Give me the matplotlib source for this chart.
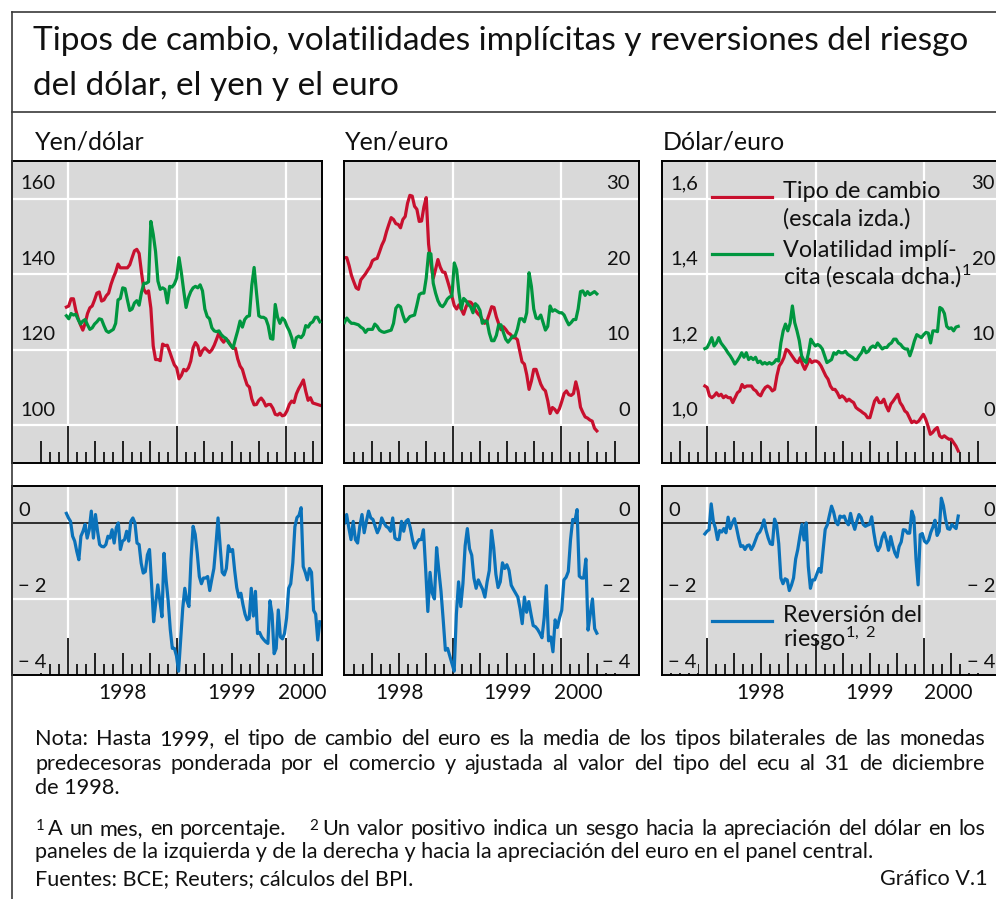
import numpy as np
import matplotlib
matplotlib.use("Agg")
import matplotlib.pyplot as plt
from matplotlib.lines import Line2D

plt.rcParams['font.family'] = ['Lato', 'DejaVu Sans']
plt.rcParams['mathtext.fontset'] = 'custom'
plt.rcParams['mathtext.rm'] = 'Lato'
plt.rcParams['mathtext.it'] = 'Lato:italic'
plt.rcParams['mathtext.bf'] = 'Lato:bold'
plt.rcParams['text.color'] = '#111111'

# ---------------------------------------------------------------- data
# weekly-ish observations, Jan 1998 - Apr 2000 (evenly spaced over each span)
span_yen_dollar = (1997.985, 2000.31)
span_yen_euro = (1997.995, 2000.33)
span_dollar_euro = (1997.98, 2000.315)

yen_dollar = [131.3, 131.6, 133.5, 133.5, 130.5, 128.3, 126.6, 125.2, 127.0, 129.6,
              131.1, 131.6, 133.2, 135.0, 135.3, 132.9, 133.2, 134.3, 135.0, 137.3,
              139.1, 140.6, 142.7, 141.7, 141.7, 141.7, 141.7, 142.5, 144.4, 146.2,
              146.6, 145.5, 140.5, 136.0, 135.0, 135.6, 131.0, 121.0, 117.4, 117.4,
              117.1, 121.5, 121.1, 121.2, 119.5, 117.7, 116.0, 115.2, 112.3, 113.2,
              114.8, 114.4, 115.2, 117.0, 120.5, 121.9, 121.0, 118.5, 119.8, 120.5,
              119.9, 119.3, 120.0, 121.2, 122.8, 124.5, 122.8, 122.0, 122.9, 122.3,
              121.2, 120.4, 120.4, 117.6, 115.7, 114.8, 112.6, 110.7, 110.1, 107.0,
              105.4, 105.5, 106.6, 107.2, 106.4, 105.1, 105.5, 105.5, 104.5, 102.9,
              102.7, 103.2, 102.5, 102.7, 103.8, 105.5, 106.4, 106.0, 108.3, 109.7,
              110.8, 112.0, 109.0, 106.6, 107.3, 105.9, 105.7, 105.5, 105.3]
yen_dollar_vol = [14.5, 14.1, 14.8, 14.6, 14.7, 14.0, 13.4, 13.8, 14.0, 13.3,
                  12.7, 12.9, 13.4, 13.7, 14.1, 14.0, 13.2, 12.5, 12.3, 12.5,
                  12.7, 13.5, 16.6, 16.8, 18.2, 18.1, 16.6, 15.2, 15.4, 16.2,
                  16.5, 15.9, 17.6, 18.8, 18.8, 19.0, 27.0, 25.3, 23.0, 19.1,
                  18.0, 18.2, 18.0, 16.2, 18.4, 18.3, 18.7, 19.5, 22.2, 20.2,
                  17.8, 15.6, 16.9, 17.7, 18.2, 18.4, 18.2, 18.6, 17.8, 15.4,
                  14.4, 14.1, 12.9, 12.5, 12.4, 12.5, 12.0, 11.7, 11.5, 11.0,
                  10.6, 10.2, 11.4, 12.5, 13.8, 13.0, 14.0, 14.4, 14.5, 18.5,
                  20.9, 17.6, 14.5, 14.3, 14.3, 14.1, 13.2, 11.5, 11.4, 16.0,
                  14.3, 13.5, 14.2, 13.9, 13.1, 12.5, 11.6, 10.3, 11.6, 11.8,
                  11.6, 12.0, 13.2, 13.0, 13.5, 13.7, 14.3, 14.3, 13.7]
yen_euro = [144.4, 144.4, 142.3, 139.7, 138.0, 136.4, 136.0, 138.5, 139.3, 140.1,
            141.1, 142.0, 143.6, 144.0, 144.2, 145.9, 147.7, 149.0, 151.3, 153.2,
            155.0, 154.5, 153.4, 153.2, 152.3, 154.5, 155.3, 158.8, 160.9, 160.7,
            158.0, 157.2, 154.0, 154.1, 157.8, 160.3, 148.0, 142.8, 138.9, 141.3,
            143.9, 141.9, 140.6, 140.5, 138.5, 136.4, 134.2, 131.7, 130.8, 131.9,
            130.7, 129.4, 131.3, 132.7, 132.6, 131.9, 130.5, 129.6, 129.0, 128.0,
            127.0, 127.7, 129.5, 131.4, 131.2, 128.7, 126.9, 125.3, 126.1, 125.4,
            124.5, 124.1, 123.2, 123.2, 122.7, 119.7, 116.8, 116.2, 113.4, 109.5,
            111.7, 114.8, 114.8, 112.8, 110.9, 109.7, 109.1, 106.5, 103.1, 104.7,
            104.2, 103.3, 104.4, 106.3, 108.4, 109.1, 108.1, 107.9, 108.4, 111.5,
            109.0, 104.8, 103.4, 102.2, 101.9, 101.4, 101.1, 99.2, 98.5]
yen_euro_vol = [13.6, 14.2, 13.8, 13.5, 13.5, 13.4, 13.3, 13.0, 12.8, 12.3,
                12.7, 12.7, 12.7, 13.4, 13.1, 12.6, 12.4, 12.3, 12.4, 12.5,
                12.6, 13.5, 15.5, 15.9, 15.7, 14.6, 13.7, 14.0, 14.4, 14.5,
                14.6, 15.9, 17.3, 17.5, 17.5, 19.5, 22.8, 22.7, 18.8, 17.5,
                16.5, 15.9, 15.7, 16.1, 16.7, 17.0, 17.1, 21.5, 20.6, 17.6,
                15.4, 16.8, 16.5, 16.0, 15.7, 14.9, 16.1, 15.8, 15.2, 13.5,
                13.8, 13.8, 12.2, 11.2, 11.2, 11.9, 13.3, 13.3, 12.3, 11.4,
                11.0, 11.4, 11.8, 11.8, 12.7, 14.1, 14.1, 13.7, 14.9, 20.2,
                18.4, 15.4, 14.2, 14.1, 14.6, 13.6, 12.6, 13.1, 15.8, 15.1,
                15.3, 15.1, 14.9, 14.9, 14.6, 13.9, 13.3, 13.6, 14.0, 14.0,
                15.4, 17.7, 17.8, 17.2, 17.7, 17.3, 17.5, 17.7, 17.4]
dollar_euro = [1.104, 1.100, 1.078, 1.073, 1.078, 1.086, 1.078, 1.082, 1.073, 1.078,
               1.073, 1.073, 1.060, 1.073, 1.086, 1.091, 1.108, 1.100, 1.104, 1.104,
               1.104, 1.095, 1.091, 1.082, 1.078, 1.091, 1.100, 1.104, 1.100, 1.091,
               1.095, 1.131, 1.157, 1.166, 1.179, 1.201, 1.197, 1.188, 1.179, 1.170,
               1.166, 1.179, 1.161, 1.148, 1.161, 1.175, 1.166, 1.170, 1.170, 1.166,
               1.157, 1.144, 1.131, 1.122, 1.104, 1.095, 1.095, 1.086, 1.073, 1.078,
               1.073, 1.064, 1.069, 1.064, 1.060, 1.047, 1.042, 1.038, 1.033, 1.029,
               1.020, 1.020, 1.042, 1.064, 1.073, 1.060, 1.060, 1.069, 1.051, 1.038,
               1.056, 1.064, 1.073, 1.082, 1.060, 1.051, 1.038, 1.033, 1.020, 1.007,
               1.011, 1.007, 1.011, 1.020, 1.029, 1.016, 0.998, 0.976, 0.981, 0.989,
               0.994, 0.972, 0.967, 0.972, 0.967, 0.963, 0.963, 0.954, 0.945, 0.932]
dollar_euro_vol = [10.15, 10.3, 10.9, 11.6, 10.5, 10.9, 11.6, 10.9, 10.5, 10.1,
                   9.6, 9.2, 8.7, 8.1, 8.5, 9.0, 9.6, 9.0, 9.6, 8.7,
                   9.0, 8.7, 9.0, 8.3, 8.5, 8.1, 8.3, 8.1, 8.3, 8.1,
                   8.3, 8.7, 8.5, 10.9, 12.5, 13.4, 12.5, 13.5, 15.8, 13.6,
                   12.5, 11.2, 9.2, 8.6, 8.3, 9.6, 11.4, 10.9, 10.5, 10.7,
                   10.5, 10.1, 9.2, 8.3, 8.5, 8.7, 9.6, 9.4, 9.8, 9.6,
                   9.6, 9.8, 9.4, 9.2, 9.0, 8.7, 8.7, 9.2, 9.6, 10.3,
                   9.6, 9.8, 10.3, 10.5, 10.3, 10.9, 10.5, 10.1, 10.3, 10.3,
                   10.7, 10.9, 11.4, 11.4, 10.9, 10.7, 10.3, 10.1, 10.1, 9.2,
                   10.1, 11.2, 12.0, 11.8, 11.6, 12.0, 12.3, 12.2, 10.9, 12.5,
                   12.5, 12.4, 15.6, 15.4, 14.8, 13.1, 12.8, 12.9, 12.5, 13.0,
                   13.1]
rr_yen_dollar = [0.25, 0.13, 0.04, -0.35, -0.48, -0.75, -0.97, -0.35, -0.22, -0.04,
                 -0.40, -0.18, 0.31, -0.40, 0.22, -0.22, -0.57, -0.62, -0.63, -0.57,
                 -0.35, -0.40, -0.18, -0.53, -0.13, 0.0, -0.70, -0.48, -0.44, -0.22,
                 -0.48, 0.04, 0.13, 0.0, -0.53, -0.57, -1.06, -1.32, -1.28, -0.84,
                 -0.70, -1.60, -2.60, -2.10, -1.63, -2.05, -2.47, -0.80, -1.50, -2.05,
                 -2.80, -3.30, -3.30, -3.50, -3.90, -3.08, -2.25, -1.72, -2.05, -2.20,
                 -0.95, -0.09, -0.30, -0.80, -1.41, -1.60, -1.45, -1.45, -1.41, -1.78,
                 -1.48, -1.20, -0.57, 0.13, -0.60, -1.30, -1.37, -1.20, -0.60, -0.75,
                 -0.70, -1.25, -1.70, -1.95, -1.85, -2.15, -2.40, -2.55, -2.51, -1.72,
                 -2.45, -1.80, -2.91, -2.88, -3.00, -3.07, -3.13, -3.17, -2.05, -2.40,
                 -3.44, -3.30, -2.29, -3.00, -3.05, -2.91, -2.50, -1.72, -1.60, -1.05,
                 -0.10, 0.14, 0.20, 0.40, -1.15, -1.30, -1.50, -1.20, -1.30, -2.30,
                 -2.40, -3.08, -2.60]
rr_yen_euro = [0.0, 0.22, -0.13, -0.44, 0.04, -0.44, -0.53, -0.09, 0.22, -0.26,
               0.04, 0.31, 0.13, 0.09, -0.09, -0.26, -0.13, 0.13, 0.0, -0.09,
               -0.13, -0.22, 0.13, -0.40, -0.44, -0.44, 0.04, -0.22, 0.04, 0.09,
               -0.13, -0.44, -0.66, -0.53, -0.44, -0.44,
               -0.18, -1.20, -2.33, -1.30, -1.85, -2.00, -0.65, -1.25, -1.80, -2.55,
               -3.35, -3.30, -3.50, -3.70, -3.90, -2.40, -1.55, -2.20, -1.59, -0.60,
               -0.15, -0.68, -0.85, -1.45, -1.72, -1.50, -1.63, -1.75, -1.95, -1.55,
               -1.25, -0.20, -0.65, -1.35, -1.70, -1.55, -1.05, -1.20, -1.10, -1.25,
               -1.64, -1.75, -1.85, -1.95, -2.25, -2.65, -1.95, -2.35, -2.07, -2.40,
               -2.70, -2.73, -2.80, -2.90, -3.02, -2.50, -1.65, -3.10, -3.00, -3.39,
               -2.55, -2.75, -2.50, -2.30, -1.50, -1.43, -1.28, -0.45, 0.09, 0.05,
               0.35, -1.40, -1.45, -1.45, -0.95, -2.82, -2.40, -2.00, -2.78, -2.90]
rr_dollar_euro = [-0.29, -0.22, -0.18, 0.50, 0.05, -0.14, -0.44, -0.20, -0.24, -0.15,
                  -0.26, 0.15, -0.15, 0.0, 0.11, -0.13, -0.40, -0.62, -0.60, -0.70,
                  -0.60, -0.58, -0.70, -0.60, -0.45, -0.30, -0.24, -0.12, 0.08, -0.20,
                  -0.40, -0.55, -0.57, 0.10, -0.05, -0.55, -1.45, -1.60, -1.47, -1.50,
                  -1.78, -1.64, -1.45, -0.95, -0.70, -0.35, -0.04, -0.45, 0.0, -1.15,
                  -1.72, -1.50, -1.50, -1.35, -1.20, -1.30, -0.72, -0.17, -0.05, 0.20,
                  0.44, 0.28, 0.03, -0.05, 0.18, 0.15, 0.18, 0.03, -0.05, 0.25,
                  0.0, -0.17, 0.05, 0.22, 0.14, -0.04, -0.09, -0.06, -0.04, 0.16,
                  -0.25, -0.58, -0.73, -0.62, -0.38, -0.26, -0.46, -0.72, -0.36, -0.60,
                  -0.79, -0.90, -0.62, -0.50, -0.18, -0.19, -0.27, -0.27, 0.31, 0.15,
                  -0.95, -1.63, -0.31, -0.28, -0.48, -0.53, -0.45, -0.25, -0.11, 0.07,
                  -0.33, -0.22, 0.65, 0.45, 0.10, -0.15, -0.17, -0.04, -0.10, -0.15,
                  0.18]

panel_titles = ['Yen/dólar', 'Yen/euro', 'Dólar/euro']
year_labels = ['1998', '1999', '2000']
rate_ticks = [[160, 140, 120, 100], [160, 140, 120, 100], [1.6, 1.4, 1.2, 1.0]]
rate_tick_labels = [['160', '140', '120', '100'], None, ['1,6', '1,4', '1,2', '1,0']]
vol_ticks = [30, 20, 10, 0]
vol_tick_labels = ['30', '20', '10', '0']
rr_ticks = [0, -2, -4]
rr_tick_labels = ['0', '\u2212 2', '\u2212 4']

# ---------------------------------------------------------------- layout
W, H = 996, 899
fig = plt.figure(figsize=(W / 100, H / 100), dpi=100)
GRAY = '#d9d9d9'
RED = '#c8102e'
GREEN = '#00963f'
BLUE = '#0a72ba'
FRAME = '#3a3a3a'

COLS = [(12, 322), (344, 639), (662, 1000)]
TOP = (161, 463)
BOT = (486, 675)
XLIMS = [(1997.486, 2000.330), (1997.991, 2000.72), (1997.585, 2000.70)]
TICK_RANGE = [((1997, 10), (2000, 4)), ((1998, 2), (2000, 7)), ((1997, 9), (2000, 7))]
YEAR_X = [[1998.5, 1999.5, 2000.15], [1998.5, 1999.5, 2000.16], [1998.49, 1999.5, 2000.22]]
RATE_YLIM = [(90, 170), (90, 170), (0.9, 1.7)]
VOL_YLIM = (-5, 35)
RR_YLIM = (-4.0, 0.97)

rates = [yen_dollar, yen_euro, dollar_euro]
vols = [yen_dollar_vol, yen_euro_vol, dollar_euro_vol]
rrs = [rr_yen_dollar, rr_yen_euro, rr_dollar_euro]
spans = [span_yen_dollar, span_yen_euro, span_dollar_euro]

TICKFS = 14.5
YEARFS = 15
LEG = 16.8
NOTE = 15.6


def add_ax(x0, x1, y0, y1):
    return fig.add_axes([x0 / W, 1 - y1 / H, (x1 - x0) / W, (y1 - y0) / H])


def base_style(ax, xlim, ylim, tick_range, hpx):
    ax.set_xlim(*xlim)
    ax.set_ylim(*ylim)
    ax.set_facecolor(GRAY)
    ax.set_xticks([])
    ax.set_yticks([])
    for s in ax.spines.values():
        s.set_linewidth(1.4)
        s.set_color('black')
        s.set_zorder(10)
    for yr in (1998, 1999, 2000):
        if xlim[0] + 0.02 < yr < xlim[1]:
            ax.axvline(yr, color='white', lw=1.6, zorder=1)
    (ya, ma), (yb, mb) = tick_range
    xs, hs = [], []
    for i in range(ya * 12 + ma - 1, yb * 12 + mb):
        yr, mo = divmod(i, 12)
        xs.append(yr + mo / 12)
        hs.append(37 if mo == 0 else (22 if mo % 3 == 0 else 11))
    ax.vlines(xs, 0, np.array(hs) / hpx, transform=ax.get_xaxis_transform(),
              colors='black', lw=1.2, zorder=3)


def vlabel(ax, text, val, side, inset, dy, size=TICKFS):
    x = 0 if side == 'left' else 1
    dx = inset if side == 'left' else -inset
    ax.annotate(text, xy=(x, val), xycoords=('axes fraction', 'data'),
                xytext=(dx, dy), textcoords='offset pixels', ha=side,
                va='baseline', fontsize=size, zorder=8, annotation_clip=False,
                bbox=dict(boxstyle='square,pad=0.08', fc=GRAY, ec='none'))


LEFT_INSET_TOP = [8, None, 8]
RIGHT_INSET_TOP = [None, 9, 5]
LEFT_INSET_BOT = [6, None, 6]
RIGHT_INSET_BOT = [None, 9, 5]
RR_LEFT = [True, False, True]
RR_RIGHT = [False, True, True]

for p in range(3):
    x0, x1 = COLS[p]
    # ---- top panel
    ax = add_ax(x0, x1, *TOP)
    base_style(ax, XLIMS[p], RATE_YLIM[p], TICK_RANGE[p], TOP[1] - TOP[0])
    for v in rate_ticks[p]:
        ax.axhline(v, color='white', lw=1.6, zorder=1)
    xr = np.linspace(spans[p][0], spans[p][1], len(rates[p]))
    ax.plot(xr, rates[p], color=RED, lw=2.3, zorder=4, solid_joinstyle='round')
    ax2 = ax.twinx()
    ax2.set_ylim(*VOL_YLIM)
    ax2.set_yticks([])
    for s in ax2.spines.values():
        s.set_visible(False)
    xv = np.linspace(spans[p][0], spans[p][1], len(vols[p]))
    ax2.plot(xv, vols[p], color=GREEN, lw=2.3, zorder=4, solid_joinstyle='round')
    if rate_tick_labels[p] is not None:
        for v, t in zip(rate_ticks[p], rate_tick_labels[p]):
            vlabel(ax, t, v, 'left', LEFT_INSET_TOP[p], 9.5)
    if RIGHT_INSET_TOP[p] is not None:
        for v, t in zip(vol_ticks, vol_tick_labels):
            vlabel(ax2, t, v, 'right', RIGHT_INSET_TOP[p], 9.5)
    fig.text((x0 + 1 + (0 if p else 22)) / W, 1 - 150 / H, panel_titles[p],
             fontsize=18, va='baseline', ha='left')

    # ---- bottom panel
    bx = add_ax(x0, x1, *BOT)
    base_style(bx, XLIMS[p], RR_YLIM, TICK_RANGE[p], BOT[1] - BOT[0])
    bx.axhline(-2, color='white', lw=1.6, zorder=1)
    bx.axhline(0, color='black', lw=1.1, zorder=2)
    xb = np.linspace(spans[p][0], spans[p][1], len(rrs[p]))
    bx.plot(xb, rrs[p], color=BLUE, lw=2.3, zorder=4, solid_joinstyle='round')
    if RR_LEFT[p]:
        for v, t in zip(rr_ticks, rr_tick_labels):
            vlabel(bx, t, v, 'left', LEFT_INSET_BOT[p], 7)
    if RR_RIGHT[p]:
        for v, t in zip(rr_ticks, rr_tick_labels):
            vlabel(bx, t, v, 'right', RIGHT_INSET_BOT[p], 7)
    for xpos, t in zip(YEAR_X[p], year_labels):
        bx.annotate(t, xy=(xpos, 0), xycoords=('data', 'axes fraction'),
                    xytext=(0, -24), textcoords='offset pixels', ha='center',
                    va='baseline', fontsize=YEARFS, annotation_clip=False)


# ---------------------------------------------------------------- frame & titles
def fx(x):
    return x / W


def fy(y):
    return 1 - y / H


fig.add_artist(Line2D([fx(12), fx(12)], [fy(12), 0], color=FRAME, lw=1.2))
fig.add_artist(Line2D([fx(12), 1], [fy(12), fy(12)], color=FRAME, lw=1.2))
fig.add_artist(Line2D([fx(12), 1], [fy(112), fy(112)], color=FRAME, lw=1.2))

fig.text(fx(33), fy(50), 'Tipos de cambio, volatilidades implícitas y reversiones del riesgo',
         fontsize=24, va='baseline')
fig.text(fx(33), fy(95), 'del dólar, el yen y el euro', fontsize=24, va='baseline')

# legends
fig.add_artist(Line2D([fx(712), fx(772)], [fy(197), fy(197)], color=RED, lw=2.3))
fig.add_artist(Line2D([fx(712), fx(772)], [fy(254), fy(254)], color=GREEN, lw=2.3))
fig.add_artist(Line2D([fx(712), fx(772)], [fy(621), fy(621)], color=BLUE, lw=2.3))
fig.text(fx(783), fy(198), 'Tipo de cambio', fontsize=LEG, va='baseline')
fig.text(fx(783), fy(226), '(escala izda.)', fontsize=LEG, va='baseline')
fig.text(fx(783), fy(257), 'Volatilidad implí-', fontsize=LEG, va='baseline')
fig.text(fx(783), fy(285), r'cita (escala dcha.)$^{1}$', fontsize=LEG, va='baseline')
fig.text(fx(783), fy(622), 'Reversión del', fontsize=LEG, va='baseline')
fig.text(fx(783), fy(647), r'riesgo$^{1,\ 2}$', fontsize=LEG, va='baseline')

# ---------------------------------------------------------------- notes
renderer = fig.canvas.get_renderer()


def justify(words, y, x0, x1, size=NOTE, extra=None):
    ts = [fig.text(0, fy(y), w, fontsize=size, va='baseline', ha='left') for w in words]
    ws = [t.get_window_extent(renderer).width for t in ts]
    extra = extra or {}
    gap = (x1 - x0 - sum(ws) - sum(extra.values())) / (len(words) - 1)
    x = x0
    for i, (t, w) in enumerate(zip(ts, ws)):
        t.set_x(fx(x))
        x += w + gap + extra.get(i, 0)


justify(('Nota: Hasta 1999, el tipo de cambio del euro es la media de los tipos '
         'bilaterales de las monedas').split(' '), 745, 35, 985)
justify(('predecesoras ponderada por el comercio y ajustada al valor del tipo del '
         'ecu al 31 de diciembre').split(' '), 770, 35, 985)
fig.text(fx(35), fy(794), 'de 1998.', fontsize=NOTE, va='baseline')
justify([r'$^{1}$', 'A', 'un', 'mes,', 'en', 'porcentaje.', r'$^{2}$', 'Un'] +
        'valor positivo indica un sesgo hacia la apreciación del dólar en los'.split(' '),
        835, 35, 985, extra={0: -3, 5: 16, 6: -3})
fig.text(fx(35), fy(858), 'paneles de la izquierda y de la derecha y hacia la '
         'apreciación del euro en el panel central.', fontsize=NOTE, va='baseline')
fig.text(fx(35), fy(885), 'Fuentes: BCE; Reuters; cálculos del BPI.', fontsize=NOTE,
         va='baseline')
fig.text(fx(988), fy(885), 'Gráfico V.1', fontsize=NOTE, va='baseline', ha='right')

fig.savefig('out.png', dpi=100)
